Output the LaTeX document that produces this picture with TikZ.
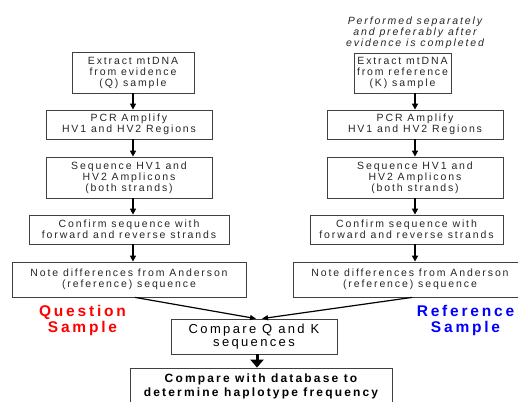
\documentclass[tikz,border=0pt]{standalone}
\usepackage{fontspec}
\setmainfont{Liberation Sans}[LetterSpace=18]
\usetikzlibrary{arrows.meta}
\definecolor{qred}{RGB}{255,0,0}
\definecolor{kblue}{RGB}{0,0,255}
\begin{document}
\begin{tikzpicture}[x=1pt,y=-1pt,
  stepbox/.style={draw=black!75,line width=0.8pt,inner sep=0pt,align=center,text=black!85,font=\fontsize{10.5}{11}\selectfont},
  flow/.style={line width=2pt,-{Triangle[length=6pt,width=6pt]}},
  merge/.style={line width=1.2pt,-{Triangle[length=6pt,width=5pt]}},
  bigflow/.style={line width=3pt,-{Triangle[length=8pt,width=13pt]}},
  side/.style={font=\fontsize{15.5}{16}\bfseries\selectfont,align=center}]
\useasboundingbox (0,0) rectangle (518,401);
\coordinate (qcol) at (133,0);
\coordinate (kcol) at (415,0);
\node[stepbox,minimum width=122pt,minimum height=41pt] (qext) at (133,72.5) {Extract mtDNA\\from evidence\\(Q) sample};
\node[stepbox,minimum width=166pt,minimum height=29pt] (qpcr) at (129,124.5) {PCR Amplify\\HV1 and HV2 Regions};
\node[stepbox,minimum width=166pt,minimum height=41pt] (qseq) at (129,177.5) {Sequence HV1 and\\HV2 Amplicons\\(both strands)};
\node[stepbox,minimum width=200pt,minimum height=29pt] (qconf) at (129,229.5) {Confirm sequence with\\forward and reverse strands};
\node[stepbox,minimum width=234pt,minimum height=35pt] (qnote) at (129,279.5) {Note differences from Anderson\\(reference) sequence};
\node[font=\fontsize{10.5}{11}\itshape\selectfont,align=center,text=black!85] (note) at (415,33) {Performed separately\\and preferably after\\evidence is completed};
\node[stepbox,minimum width=97pt,minimum height=40pt] (kext) at (402.5,73) {Extract mtDNA\\from reference\\(K) sample};
\node[stepbox,minimum width=176pt,minimum height=29pt] (kpcr) at (415,124.5) {PCR Amplify\\HV1 and HV2 Regions};
\node[stepbox,minimum width=176pt,minimum height=41pt] (kseq) at (415,177.5) {Sequence HV1 and\\HV2 Amplicons\\(both strands)};
\node[stepbox,minimum width=193pt,minimum height=29pt] (kconf) at (406.5,229.5) {Confirm sequence with\\forward and reverse strands};
\node[stepbox,minimum width=234pt,minimum height=35pt] (knote) at (410,279.5) {Note differences from Anderson\\(reference) sequence};
\node[side,text=qred] (qlab) at (82.5,320) {Question\\Sample};
\node[side,text=kblue] (klab) at (465.5,320) {Reference\\Sample};
\node[stepbox,minimum width=166pt,minimum height=35pt,font=\fontsize{13}{13}\selectfont,text=black] (cmp) at (254,336.5) {Compare Q and K\\sequences};
\node[stepbox,minimum width=262pt,minimum height=36pt,font=\fontsize{12}{14}\bfseries\selectfont,text=black] (fin) at (261,386) {Compare with database to\\determine haplotype frequency};
\draw[flow] (qext.south -| qcol) -- (qpcr.north -| qcol);
\draw[flow] (qpcr.south -| qcol) -- (qseq.north -| qcol);
\draw[flow] (qseq.south -| qcol) -- (qconf.north -| qcol);
\draw[flow] (qconf.south -| qcol) -- (qnote.north -| qcol);
\draw[flow] (kext.south -| kcol) -- (kpcr.north -| kcol);
\draw[flow] (kpcr.south -| kcol) -- (kseq.north -| kcol);
\draw[flow] (kseq.south -| kcol) -- (kconf.north -| kcol);
\draw[flow] (kconf.south -| kcol) -- (knote.north -| kcol);
\draw[merge] ([xshift=6pt]qnote.south) -- ([xshift=2pt]cmp.north);
\draw[merge] ([xshift=2pt]knote.south) -- ([xshift=8pt]cmp.north);
\draw[bigflow] (cmp.south -| 257,0) -- (fin.north -| 257,0);
\end{tikzpicture}
\end{document}
